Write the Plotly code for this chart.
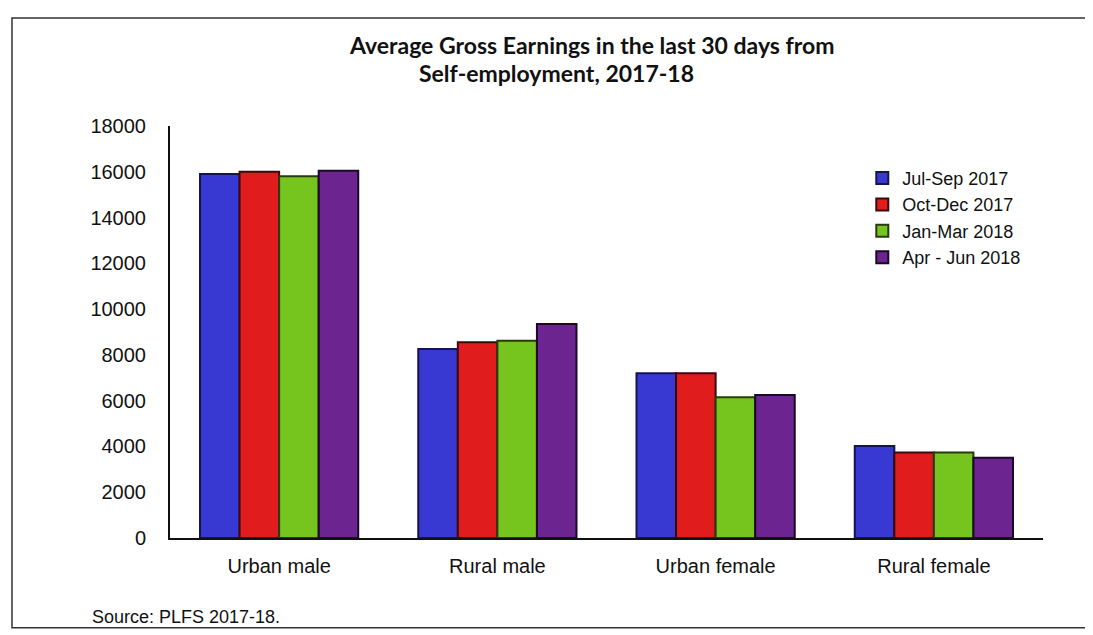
import plotly.graph_objects as go

categories = ["Urban male", "Rural male", "Urban female", "Rural female"]
series_names = ["Jul-Sep 2017", "Oct-Dec 2017", "Jan-Mar 2018", "Apr - Jun 2018"]
jul_sep_2017 = [15900, 8260, 7200, 4020]
oct_dec_2017 = [16000, 8550, 7200, 3730]
jan_mar_2018 = [15800, 8620, 6150, 3740]
apr_jun_2018 = [16050, 9350, 6250, 3510]
y_ticks = [0, 2000, 4000, 6000, 8000, 10000, 12000, 14000, 16000, 18000]

series_values = [jul_sep_2017, oct_dec_2017, jan_mar_2018, apr_jun_2018]
colors = ["#3838d2", "#e01c1c", "#76c41e", "#6c2490"]
outlines = ["#141450", "#3a0a10", "#2a3a10", "#1a0a24"]

fig = go.Figure()
for name, vals, c, oc in zip(series_names, series_values, colors, outlines):
    fig.add_trace(go.Bar(
        x=categories, y=vals, name=name,
        marker=dict(color=c, line=dict(color=oc, width=2)),
    ))

font_main = "Liberation Sans, Arial, sans-serif"
fig.update_layout(
    width=1085, height=627,
    paper_bgcolor="white", plot_bgcolor="white",
    margin=dict(l=162, r=50, t=118, b=97),
    barmode="group", bargap=0.275, bargroupgap=0,
    showlegend=True,
    legend=dict(x=0.793, y=0.918, xanchor="left", yanchor="top",
                font=dict(family=font_main, size=18, color="#111"),
                bgcolor="rgba(0,0,0,0)", tracegroupgap=0,
                itemwidth=30),
    font=dict(family=font_main, size=18, color="#111"),
)
fig.update_xaxes(
    showline=True, linecolor="#111", linewidth=2, showgrid=False,
    ticks="", tickfont=dict(family=font_main, size=20, color="#111"),
    ticklabelstandoff=9,
)
fig.update_yaxes(
    range=[0, 18000], tickvals=y_ticks, tickformat="d", showline=True,
    linecolor="#111", linewidth=2, showgrid=False, zeroline=False, ticks="",
    tickfont=dict(family=font_main, size=20, color="#111"),
    ticklabelstandoff=18,
)

title_font = dict(family="Lato, Open Sans, sans-serif", size=23, color="#111", weight="bold")
fig.add_annotation(text="<b>Average Gross Earnings in the last 30 days from</b>",
                   xref="paper", yref="paper", x=0.483, y=1.197,
                   xanchor="center", yanchor="middle", showarrow=False, font=title_font)
fig.add_annotation(text="<b>Self-employment, 2017-18</b>",
                   xref="paper", yref="paper", x=0.443, y=1.129,
                   xanchor="center", yanchor="middle", showarrow=False, font=title_font)
fig.add_annotation(text="Source: PLFS 2017-18.",
                   xref="paper", yref="paper", x=-0.092, y=-0.192,
                   xanchor="left", yanchor="middle", showarrow=False,
                   font=dict(family=font_main, size=18, color="#111"))
fig.add_shape(type="rect", xref="paper", yref="paper",
              x0=-0.181, x1=1.0515, y0=-0.218, y1=1.262,
              line=dict(color="#333", width=1.5))

fig.write_html("out.html")
